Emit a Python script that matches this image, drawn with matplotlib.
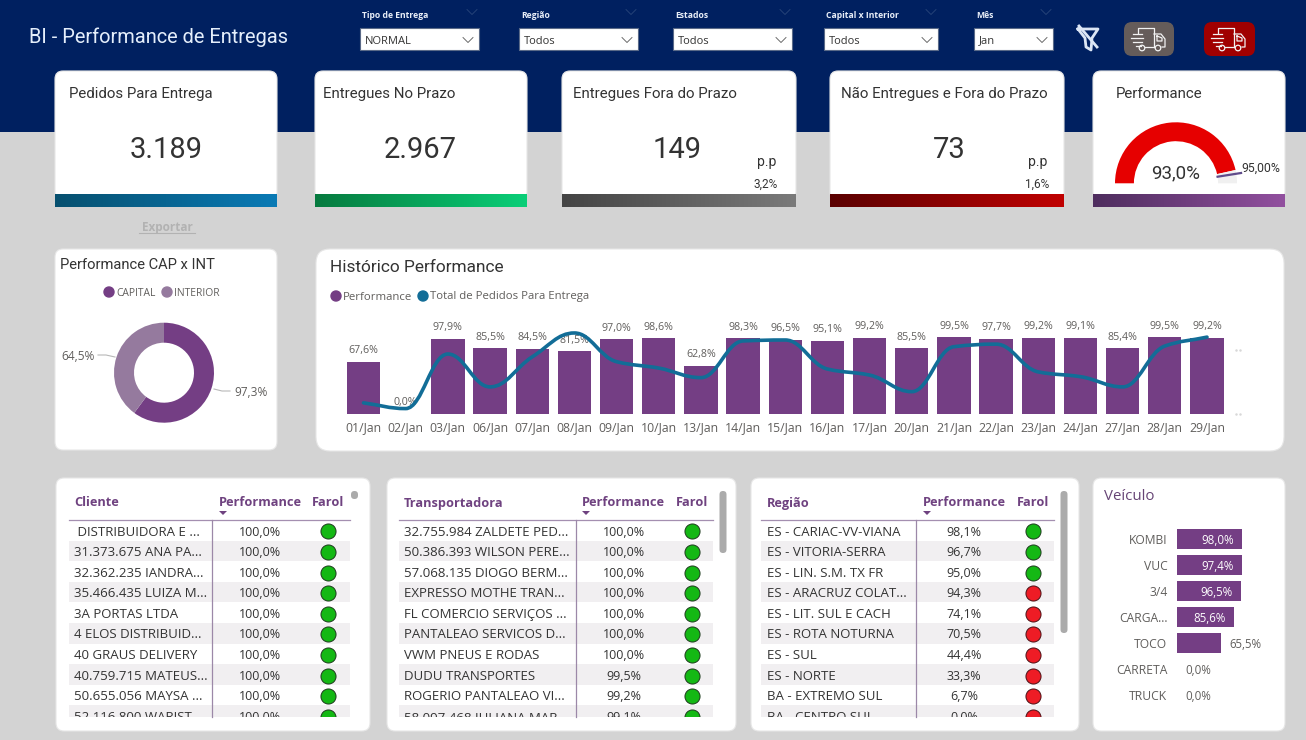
import numpy as np
import matplotlib
matplotlib.use('Agg')
import matplotlib.pyplot as plt
from matplotlib.patches import FancyBboxPatch, Rectangle, PathPatch, Polygon
from matplotlib.path import Path
from matplotlib.colors import LinearSegmentedColormap

# Fonts closest to what the dashboard uses
TITLE_FONT = 'Roboto'
BODY_FONT = 'Open Sans'

NAVY = '#002060'
GREY_BG = '#D3D3D3'
PURPLE = '#743E84'
PURPLE_LIGHT = '#957A9E'
BLUE_LINE = '#126D97'
TEXT_GREY = '#605E5C'
TEXT_DARK = '#333333'

# KPI cards
kpi_titles = ['Pedidos Para Entrega', 'Entregues No Prazo', 'Entregues Fora do Prazo',
              'Não Entregues e Fora do Prazo', 'Performance']
kpi_values = ['3.189', '2.967', '149', '73']
kpi_pp = ['3,2%', '1,6%']

# Slicers
slicer_labels = ['Tipo de Entrega', 'Região', 'Estados', 'Capital x Interior', 'Mês']
slicer_values = ['NORMAL', 'Todos', 'Todos', 'Todos', 'Jan']

# Gauge
gauge_value = 93.0
gauge_target = 95.0
gauge_max = 100.0

# Donut
donut_labels = ['CAPITAL', 'INTERIOR']
donut_values = [97.3, 64.5]

# History chart
days = ['01/Jan', '02/Jan', '03/Jan', '06/Jan', '07/Jan', '08/Jan', '09/Jan', '10/Jan', '13/Jan',
        '14/Jan', '15/Jan', '16/Jan', '17/Jan', '20/Jan', '21/Jan', '22/Jan', '23/Jan', '24/Jan',
        '27/Jan', '28/Jan', '29/Jan']
day_performance = [67.6, 0.0, 97.9, 85.5, 84.5, 81.5, 97.0, 98.6, 62.8, 98.3, 96.5, 95.1, 99.2,
                   85.5, 99.5, 97.7, 99.2, 99.1, 85.4, 99.5, 99.2]
# Estimated from the line height, the axis itself is hidden in the original
day_orders = [35, 17, 188, 85, 179, 254, 164, 144, 114, 229, 232, 141, 122, 70, 211, 219, 132,
              117, 85, 213, 241]

# Tables
client_names = [' DISTRIBUIDORA E ...', '31.373.675 ANA PA...', '32.362.235 IANDRA...',
                '35.466.435 LUIZA M...', '3A PORTAS LTDA', '4 ELOS DISTRIBUID...',
                '40 GRAUS DELIVERY', '40.759.715 MATEUS...', '50.655.056 MAYSA ...',
                '52.116.800 WARIST...']
client_perf = ['100,0%'] * 10
client_ok = [True] * 10

carrier_names = ['32.755.984 ZALDETE PED...', '50.386.393 WILSON PERE...', '57.068.135 DIOGO BERM...',
                 'EXPRESSO MOTHE TRAN...', 'FL COMERCIO SERVIÇOS ...', 'PANTALEAO SERVICOS D...',
                 'VWM PNEUS E RODAS', 'DUDU TRANSPORTES', 'ROGERIO PANTALEAO VI...',
                 '58.097.468 JULIANA MAR...']
carrier_perf = ['100,0%', '100,0%', '100,0%', '100,0%', '100,0%', '100,0%', '100,0%', '99,5%',
                '99,2%', '99,1%']
carrier_ok = [True] * 10

region_names = ['ES - CARIAC-VV-VIANA', 'ES - VITORIA-SERRA', 'ES - LIN. S.M. TX FR',
                'ES - ARACRUZ COLAT...', 'ES - LIT. SUL E CACH', 'ES - ROTA NOTURNA', 'ES - SUL',
                'ES - NORTE', 'BA - EXTREMO SUL', 'BA - CENTRO SUL']
region_perf = ['98,1%', '96,7%', '95,0%', '94,3%', '74,1%', '70,5%', '44,4%', '33,3%', '6,7%', '0,0%']
region_ok = [True, True, True, False, False, False, False, False, False, False]

# Vehicles
vehicles = ['KOMBI', 'VUC', '3/4', 'CARGA...', 'TOCO', 'CARRETA', 'TRUCK']
vehicle_perf = [98.0, 97.4, 96.5, 85.6, 65.5, 0.0, 0.0]


def px_axes(fig, left, top, right, bottom):
    """Add a transparent axes placed with pixel coordinates from the top left corner."""
    ax = fig.add_axes([left / 1306, 1 - bottom / 740, (right - left) / 1306, (bottom - top) / 740])
    ax.patch.set_visible(False)
    return ax


def card(bg, x0, y0, x1, y1, radius=8):
    bg.add_patch(FancyBboxPatch((x0, y0), x1 - x0, y1 - y0,
                                boxstyle=f'round,pad=0,rounding_size={radius}',
                                fc='white', ec='#E6E6E6', lw=0.8, zorder=1))


def gradient(bg, x0, y0, x1, y1, c0, c1):
    cmap = LinearSegmentedColormap.from_list('bar', [c0, c1])
    bg.imshow(np.linspace(0, 1, 256).reshape(1, -1), cmap=cmap, aspect='auto',
              extent=(x0, x1, y1, y0), zorder=2)


def chevron(bg, cx, cy, color, w=5, h=2.5, lw=0.6):
    bg.plot([cx - w, cx, cx + w], [cy - h, cy + h, cy - h], color=color, lw=lw, zorder=4)


def draw_truck(bg, cx, cy, color='#F2F2F2'):
    """Small delivery truck icon, offsets are relative to the button centre."""
    lw = 0.9
    bg.plot([cx - 12, cx - 12, cx + 4, cx + 4], [cy - 6, cy - 11, cy - 11, cy + 8],
            color=color, lw=lw, zorder=5)
    bg.plot([cx + 4, cx + 11, cx + 15, cx + 15, cx + 12], [cy - 5, cy - 5, cy, cy + 8, cy + 8],
            color=color, lw=lw, zorder=5)
    bg.plot([cx + 7, cx + 7, cx + 12, cx + 12, cx + 7], [cy - 3, cy + 2, cy + 2, cy - 1, cy - 3],
            color=color, lw=lw, zorder=5)
    bg.plot([cx - 5, cx + 4], [cy + 8, cy + 8], color=color, lw=lw, zorder=5)
    for off_y, x_start, x_end in [(-5, -17, -8), (-1, -19, -7), (3, -17, -8), (7, -14, -9)]:
        bg.plot([cx + x_start, cx + x_end], [cy + off_y, cy + off_y], color=color, lw=lw, zorder=5)
    bg.scatter([cx - 8, cx + 8], [cy + 9, cy + 9], s=16, facecolor='none', edgecolor=color,
               linewidth=0.9, zorder=6)


def smooth_path(x, y):
    """Monotone bezier path through the points, same look as the Power BI smooth line."""
    x = np.asarray(x, dtype=float)
    y = np.asarray(y, dtype=float)
    slope = np.diff(y) / np.diff(x)
    tangent = np.zeros(len(y))
    for i in range(1, len(y) - 1):
        if slope[i - 1] * slope[i] > 0:
            tangent[i] = 2 * slope[i - 1] * slope[i] / (slope[i - 1] + slope[i])
    tangent[0] = slope[0]
    tangent[-1] = slope[-1]
    verts = [(x[0], y[0])]
    codes = [Path.MOVETO]
    for i in range(len(x) - 1):
        d = (x[i + 1] - x[i]) / 2.5
        verts += [(x[i] + d, y[i] + tangent[i] * d),
                  (x[i + 1] - d, y[i + 1] - tangent[i + 1] * d),
                  (x[i + 1], y[i + 1])]
        codes += [Path.CURVE4] * 3
    return Path(verts, codes)


def draw_table(bg, header, names, perf, ok, x0, x1, sep, text_x, perf_x, perf_left, farol_x):
    row_h = 20.6
    line_y = 520
    bg.text(text_x, 503, header, fontfamily=BODY_FONT, fontweight='bold', fontsize=9.2,
            color='#6F4280', va='center', zorder=4)
    bg.text(perf_left, 503, 'Performance', fontfamily=BODY_FONT, fontweight='bold', fontsize=9.2,
            color='#6F4280', va='center', zorder=4)
    bg.text(farol_x, 503, 'Farol', fontfamily=BODY_FONT, fontweight='bold', fontsize=9.2,
            color='#6F4280', va='center', ha='center', zorder=4)
    bg.add_patch(Polygon([(perf_left, 511), (perf_left + 8, 511), (perf_left + 4, 515)],
                         fc='#6F4280', ec='none', zorder=4))
    bg.plot([x0, x1], [line_y, line_y], color='#A48FB0', lw=0.9, zorder=4)
    for i, name in enumerate(names):
        top = line_y + i * row_h
        mid = top + row_h / 2 + 1
        if i % 2 == 1:
            bg.add_patch(Rectangle((x0, top), x1 - x0, row_h, fc='#F1EFF1', ec='none', zorder=2))
        bg.text(text_x, mid + 0.7, name, fontfamily=BODY_FONT, fontsize=9.5, color=TEXT_DARK, va='center', zorder=3)
        bg.text(perf_x, mid + 0.7, perf[i], fontfamily=BODY_FONT, fontsize=9, color=TEXT_DARK,
                va='center', ha='center', zorder=3)
        bg.scatter([farol_x], [mid], s=118, color='#14B814' if ok[i] else '#EE1C25',
                   edgecolor='#1E3A1E' if ok[i] else '#4A1015', linewidth=0.7, zorder=3)
    # Last row is cut by the scroll area of the table
    bg.add_patch(Rectangle((x0 - 2, 716.5), x1 - x0 + 4, 13, fc='white', ec='none', zorder=3.5))
    bg.plot([sep, sep], [line_y, 716.5], color='#9C88A8', lw=0.9, zorder=4)


fig = plt.figure(figsize=(13.06, 7.4), dpi=100, facecolor=GREY_BG)
bg = fig.add_axes([0, 0, 1, 1])
bg.axis('off')

# Header band
bg.add_patch(Rectangle((0, 0), 1306, 132, fc=NAVY, ec='none', zorder=0))
bg.text(29, 37, 'BI - Performance de Entregas', fontfamily=TITLE_FONT, fontsize=14.4,
        color='#E4EEFB', va='center', zorder=4)

# Slicers
slicer_x = [(360, 479), (519, 638), (673, 792), (824, 938), (974, 1053)]
for label, value, (x0, x1) in zip(slicer_labels, slicer_values, slicer_x):
    bg.text(x0 + 2, 15, label, fontfamily=BODY_FONT, fontweight='bold', fontsize=6.2,
            color='#E8EEF8', va='center', zorder=4)
    bg.add_patch(Rectangle((x0, 28), x1 - x0, 22, fc='white', ec='#5A6A88', lw=0.8, zorder=3))
    bg.text(x0 + 5, 41, value, fontfamily=BODY_FONT, fontsize=8, color=TEXT_DARK, va='center', zorder=4)
    chevron(bg, x1 - 11, 40, '#555555')
    chevron(bg, x1 - 7, 12, '#2A477A')

# Clear filter icon and the two truck buttons
bg.plot([1078, 1098, 1092, 1091, 1086, 1085, 1078], [29, 29, 38, 50, 47, 38, 29], color='#DCE6F5', lw=2, zorder=4)
bg.plot([1079, 1097], [26, 47], color='#DCE6F5', lw=2, zorder=4)
bg.add_patch(FancyBboxPatch((1124, 22), 50, 34, boxstyle='round,pad=0,rounding_size=8',
                            fc='#655C5A', ec='none', zorder=3))
bg.add_patch(FancyBboxPatch((1204, 22), 51, 34, boxstyle='round,pad=0,rounding_size=8',
                            fc='#A00000', ec='none', zorder=3))
draw_truck(bg, 1150, 39)
draw_truck(bg, 1230, 39)

# KPI cards
kpi_x = [(55, 277), (315, 527), (562, 796), (830, 1064), (1093, 1285)]
kpi_title_x = [69, 323, 573, 841, 1116]
kpi_center = [166, 420, 677, 949]
kpi_colors = [('#06506F', '#0A7AB5'), ('#067A3F', '#0ACF78'), ('#444444', '#7A7A7A'),
              ('#5A0000', '#C00000'), ('#4E2D5E', '#92509F')]
for i, (x0, x1) in enumerate(kpi_x):
    card(bg, x0, 71, x1, 200)
    gradient(bg, x0, 194.5, x1, 207, *kpi_colors[i])
    bg.text(kpi_title_x[i], 94, kpi_titles[i], fontfamily=TITLE_FONT, fontsize=10.8,
            color=TEXT_DARK, va='center', zorder=4)
for cx, value in zip(kpi_center, kpi_values):
    bg.text(cx, 150, value, fontfamily=TITLE_FONT, fontsize=21, color=TEXT_DARK,
            ha='center', va='center', zorder=4)
for px, value in zip([767, 1038], kpi_pp):
    bg.text(px, 162, 'p.p', fontfamily=TITLE_FONT, fontsize=10, color=TEXT_DARK, ha='center', va='center', zorder=4)
    bg.text(px - 1, 184, value, fontfamily=TITLE_FONT, fontsize=8.5, color=TEXT_DARK, ha='center', va='center', zorder=4)

bg.text(167, 227, 'Exportar', fontfamily=BODY_FONT, fontweight='bold', fontsize=8.5, color='#B2B2B2',
        ha='center', va='center', zorder=4)
bg.plot([139, 195], [233, 233], color='#B2B2B2', lw=0.8, zorder=4)

# Second row cards
card(bg, 55, 249, 277, 450)
card(bg, 316, 249, 1284, 451, radius=14)

# Donut legend and labels
bg.text(60, 265, 'Performance CAP x INT', fontfamily=TITLE_FONT, fontsize=10.6, color=TEXT_DARK, va='center', zorder=4)
bg.scatter([109, 167], [292, 292], s=52, color=[PURPLE, PURPLE_LIGHT], zorder=4)
bg.text(116, 293, donut_labels[0], fontfamily=BODY_FONT, fontsize=7.4, color=TEXT_GREY, va='center', zorder=4)
bg.text(174, 293, donut_labels[1], fontfamily=BODY_FONT, fontsize=7.4, color=TEXT_GREY, va='center', zorder=4)
bg.plot([214, 222, 230], [389, 391, 391], color='#B8B8B8', lw=0.8, zorder=4)
bg.plot([98, 106, 115], [355, 355, 357], color='#B8B8B8', lw=0.8, zorder=4)
bg.text(234, 393, f'{donut_values[0]:.1f}%'.replace('.', ','), fontfamily=BODY_FONT, fontsize=8.6, color=TEXT_GREY, va='center', zorder=4)
bg.text(61, 357, f'{donut_values[1]:.1f}%'.replace('.', ','), fontfamily=BODY_FONT, fontsize=8.6, color=TEXT_GREY, va='center', zorder=4)

# History legend
bg.text(330, 267.5, 'Histórico Performance', fontfamily=TITLE_FONT, fontsize=12.4, color=TEXT_DARK, va='center', zorder=4)
bg.scatter([336, 423], [296, 296], s=52, color=[PURPLE, BLUE_LINE], zorder=4)
bg.text(343, 297, 'Performance', fontfamily=BODY_FONT, fontsize=8.2, color=TEXT_GREY, va='center', zorder=4)
bg.text(430, 297, 'Total de Pedidos Para Entrega', fontfamily=BODY_FONT, fontsize=8.2, color=TEXT_GREY, va='center', zorder=4)
for y_dots in (350, 414):
    bg.scatter([1236, 1240], [y_dots, y_dots], s=0.6, color='#D8D8D8', zorder=4)

# Bottom row cards and tables
card(bg, 56, 478, 370, 731)
card(bg, 387, 478, 736, 731)
card(bg, 751, 478, 1079, 731)
card(bg, 1093, 478, 1285, 731)
draw_table(bg, 'Cliente', client_names, client_perf, client_ok, 69, 350, 211.7, 74, 260, 219, 328)
draw_table(bg, 'Transportadora', carrier_names, carrier_perf, carrier_ok, 399, 713, 575.7, 404, 623.7, 582, 692)
draw_table(bg, 'Região', region_names, region_perf, region_ok, 761, 1054, 916, 767, 964, 923, 1032.7)

# Table scrollbars
bg.add_patch(FancyBboxPatch((351, 491), 7, 8, boxstyle='round,pad=0,rounding_size=3.5', fc='#ABABAB', ec='none', zorder=4))
bg.add_patch(FancyBboxPatch((719.5, 491), 7, 62, boxstyle='round,pad=0,rounding_size=3.5', fc='#ABABAB', ec='none', zorder=4))
bg.add_patch(FancyBboxPatch((1060.5, 491), 7, 142, boxstyle='round,pad=0,rounding_size=3.5', fc='#ABABAB', ec='none', zorder=4))
bg.text(1104, 497, 'Veículo', fontfamily=BODY_FONT, fontsize=10.8, color='#664475', va='center', zorder=4)

# imshow resets the limits, so set them at the end of the background drawing
bg.set_xlim(0, 1306)
bg.set_ylim(740, 0)

# Gauge, the lower half of the pie stays hidden
ax_gauge = px_axes(fig, 1115, 122.3, 1237, 244.3)
wedges, _ = ax_gauge.pie([gauge_value, gauge_max - gauge_value, gauge_max], startangle=180,
                         counterclock=False, radius=1, colors=['#E60000', '#F0F0F0', 'white'],
                         wedgeprops={'width': 0.31})
wedges[2].set_visible(False)
ax_gauge.set_xlim(-1, 1)
ax_gauge.set_ylim(-1, 1)
target_angle = np.pi * (1 - gauge_target / gauge_max)
ax_gauge.plot([0.69 * np.cos(target_angle), 1.08 * np.cos(target_angle)],
              [0.69 * np.sin(target_angle), 1.08 * np.sin(target_angle)],
              color='#5F4B8B', lw=1.6, clip_on=False)
ax_gauge.text(0, 0.17, f'{gauge_value:.1f}%'.replace('.', ','), fontfamily=TITLE_FONT, fontsize=13.5,
              color=TEXT_DARK, ha='center', va='center')
ax_gauge.text(1.07, 0.25, f'{gauge_target:.2f}%'.replace('.', ','), fontfamily=TITLE_FONT, fontsize=8.8,
              color=TEXT_DARK, ha='left', va='center', clip_on=False)

# Donut
ax_donut = px_axes(fig, 114, 322.7, 214, 422.7)
ax_donut.pie(donut_values, startangle=90, counterclock=False, radius=1,
             colors=[PURPLE, PURPLE_LIGHT], wedgeprops={'width': 0.4})
ax_donut.set_xlim(-1, 1)
ax_donut.set_ylim(-1, 1)

# History bars with the orders line on a hidden second axis
ax_bar = px_axes(fig, 342.4, 325, 1228.1, 414)
x = np.arange(len(days))
bars = ax_bar.bar(x, day_performance, width=0.79, color=PURPLE)
for xi, val in zip(x, day_performance):
    ax_bar.annotate(f'{val:.1f}%'.replace('.', ','), (xi, val), xytext=(0, 4), textcoords='offset points',
                    ha='center', va='bottom', fontfamily=BODY_FONT, fontsize=7.7, color=TEXT_GREY)
ax_bar.set_xlim(-0.5, len(days) - 0.5)
ax_bar.set_ylim(0, 115.7)
ax_bar.set_xticks(x)
ax_bar.set_xticklabels(days, fontfamily=BODY_FONT, fontsize=8.8, color=TEXT_GREY)
ax_bar.tick_params(axis='x', length=0, pad=5)
ax_bar.set_yticks([])
for spine in ax_bar.spines.values():
    spine.set_visible(False)

ax_line = ax_bar.twinx()
ax_line.patch.set_visible(False)
ax_line.add_patch(PathPatch(smooth_path(x, day_orders), fill=False, ec=BLUE_LINE, lw=2.6,
                            capstyle='round', joinstyle='round'))
ax_line.set_ylim(0, 279)
ax_line.set_yticks([])
for spine in ax_line.spines.values():
    spine.set_visible(False)

# Vehicle bars
ax_veh = px_axes(fig, 1177, 525.7, 1277, 707.7)
y_pos = np.arange(len(vehicles))
ax_veh.barh(y_pos, vehicle_perf, height=0.77, color=PURPLE)
for yi, val in zip(y_pos, vehicle_perf):
    label = f'{val:.1f}%'.replace('.', ',')
    if val > 80:
        ax_veh.annotate(label, (val, yi), xytext=(-6, -1), textcoords='offset points', ha='right',
                        va='center', fontfamily=BODY_FONT, fontsize=8.3, color='white')
    else:
        ax_veh.annotate(label, (val, yi), xytext=(6, -1), textcoords='offset points', ha='left',
                        va='center', fontfamily=BODY_FONT, fontsize=8.3, color=TEXT_GREY)
ax_veh.set_xlim(0, 150)
ax_veh.set_ylim(len(vehicles) - 0.5, -0.5)
ax_veh.set_yticks(y_pos)
ax_veh.set_yticklabels(vehicles, fontfamily=BODY_FONT, fontsize=8.7, color=TEXT_GREY)
ax_veh.tick_params(axis='y', length=0, pad=7)
ax_veh.set_xticks([])
for spine in ax_veh.spines.values():
    spine.set_visible(False)

fig.savefig('out.png', dpi=100, facecolor=GREY_BG)
